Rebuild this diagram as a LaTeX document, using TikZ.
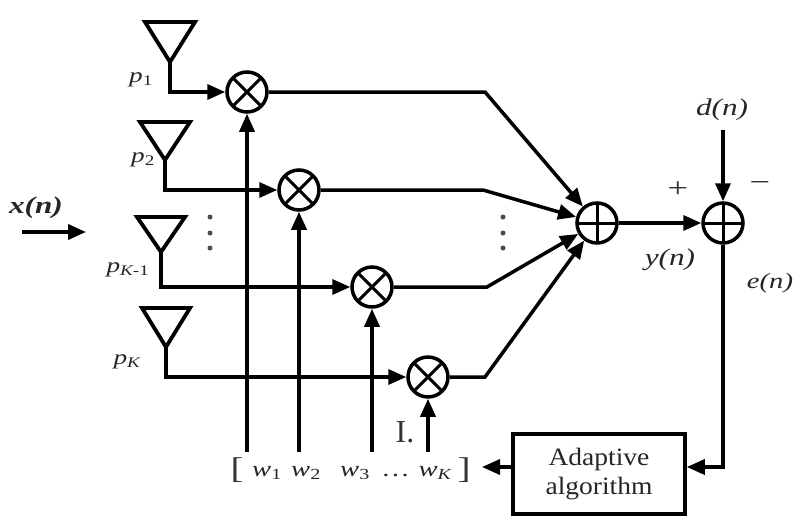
\documentclass[tikz,border=0pt]{standalone}
\usepackage{fontspec}
\setmainfont{Liberation Serif}[FakeStretch=1.3]
\newfontfamily\plainserif{Liberation Serif}
\newfontfamily\boxfont{Liberation Serif}[FakeStretch=1.1]
\usetikzlibrary{arrows.meta}
\begin{document}
\begin{tikzpicture}[x=1pt,y=-1pt,
  wire/.style={line width=3.5pt},
  arr/.style={wire,-{Triangle[length=18pt,width=15pt]}},
  antenna/.style={line width=3.8pt,line join=miter},
  mult/.style={circle,draw,line width=3.5pt,minimum size=40pt,inner sep=0pt,
    path picture={\draw[line width=3pt]
      (path picture bounding box.north west)--(path picture bounding box.south east)
      (path picture bounding box.north east)--(path picture bounding box.south west);}},
  addr/.style={circle,draw,line width=3.5pt,minimum size=40pt,inner sep=0pt,
    path picture={\draw[line width=3pt]
      (path picture bounding box.north)--(path picture bounding box.south)
      (path picture bounding box.east)--(path picture bounding box.west);}},
  lbl/.style={font=\fontsize{24}{26}\selectfont\itshape,text=black!85,inner sep=0pt},
  wlbl/.style={font=\fontsize{22}{24}\selectfont\itshape,text=black!85,inner sep=0pt},
  plbl/.style={font=\fontsize{21}{24}\selectfont\itshape,text=black!85,inner sep=0pt},
  sym/.style={font=\fontsize{28}{30}\selectfont,text=black!80,inner sep=0pt},
  boxstyle/.style={draw,line width=3.5pt,minimum width=172pt,minimum height=80pt,
    align=center,font=\fontsize{25}{29}\boxfont,text=black!85},
  dot/.style={fill=black!70,draw=none}
]
\useasboundingbox (0,0) rectangle (795,523);

% multipliers and adders
\node[mult] (M1) at (247,92) {};
\node[mult] (M2) at (299,190) {};
\node[mult] (M3) at (372,287) {};
\node[mult] (M4) at (428,377) {};
\node[addr] (S1) at (597,223) {};
\node[addr] (S2) at (723,223) {};
\node[boxstyle] (AA) at (599,474) {Adaptive\\algorithm};

% antennas
\coordinate (A1) at (170,62);
\coordinate (A2) at (165,160);
\coordinate (A3) at (161,252);
\coordinate (A4) at (166,347);
\draw[antenna] (145,22) -- (195,22) -- (A1) -- cycle;
\draw[antenna] (140,122) -- (190,122) -- (A2) -- cycle;
\draw[antenna] (137,217) -- (185,217) -- (A3) -- cycle;
\draw[antenna] (142,308) -- (190,308) -- (A4) -- cycle;

% antenna to multipliers
\draw[arr] (A1) |- (M1);
\draw[arr] (A2) |- (M2);
\draw[arr] (A3) |- (M3);
\draw[arr] (A4) |- (M4);

% weight lines
\coordinate (b1) at (247,452);
\coordinate (b2) at (299,452);
\coordinate (b3) at (372,452);
\coordinate (b4) at (428,452);
\draw[arr] (b1) -- (M1);
\draw[arr] (b2) -- (M2);
\draw[arr] (b3) -- (M3);
\draw[arr] (b4) -- (M4);

% multiplier outputs to summer
\coordinate (k1) at (485,92);
\coordinate (k2) at (483,190);
\coordinate (k3) at (487,287);
\coordinate (k4) at (485,377);
\draw[arr] (M1) -- (k1) -- (S1);
\draw[arr] (M2) -- (k2) -- (S1);
\draw[arr] (M3) -- (k3) -- (S1);
\draw[arr] (M4) -- (k4) -- (S1);

% summer to error adder
\draw[arr] (S1) -- (S2);
\coordinate (dtop) at (723,130);
\draw[arr] (dtop) -- (S2);

% feedback
\coordinate (fb) at (723,467);
\draw[arr] (S2) -- (fb) -- (fb -| AA.east);
\coordinate (wt) at (482,467);
\draw[arr] (AA.west |- fb) -- (wt);

% input arrow
\coordinate (xa) at (22,232);
\coordinate (xb) at (86,232);
\draw[arr] (xa) -- (xb);

% dots
\foreach \yy in {217,233,248} {
  \fill[dot] (210,\yy) circle (2.5pt);
  \fill[dot] (503,\yy) circle (2.5pt);
}

% labels
\node[lbl,font=\fontsize{24}{26}\selectfont\bfseries\itshape] (xn) at (36,208) {x(n)};
\node[plbl] (p1) at (141,80) {p\textsubscript{\upshape 1}};
\node[plbl] (p2) at (143,160) {p\textsubscript{\upshape 2}};
\node[plbl] (p3) at (128,270) {p\textsubscript{K\upshape -1}};
\node[plbl] (p4) at (127,362) {p\textsubscript{K}};
\node[lbl] (dn) at (722,110) {d(n)};
\node[lbl] (yn) at (670,260) {y(n)};
\node[lbl,font=\fontsize{22}{24}\selectfont\itshape] (en) at (770,283) {e(n)};
\node[sym] (plus) at (678,190) {+};
\node[sym] (minus) at (760,186) {−};
\node[sym,font=\fontsize{32}{34}\plainserif] (il) at (405,432) {I.};

\node[sym,font=\fontsize{30}{32}\selectfont] (lb) at (237,470) {[};
\node[wlbl] (w1) at (267,473) {w\textsubscript{\upshape 1}};
\node[wlbl] (w2) at (306,473) {w\textsubscript{\upshape 2}};
\node[wlbl] (w3) at (355,473) {w\textsubscript{\upshape 3}};
\node[wlbl] (wd) at (396,476) {\ldots};
\node[wlbl] (wk) at (435,473) {w\textsubscript{K}};
\node[sym,font=\fontsize{30}{32}\selectfont] (rb) at (464,470) {]};
\end{tikzpicture}
\end{document}
